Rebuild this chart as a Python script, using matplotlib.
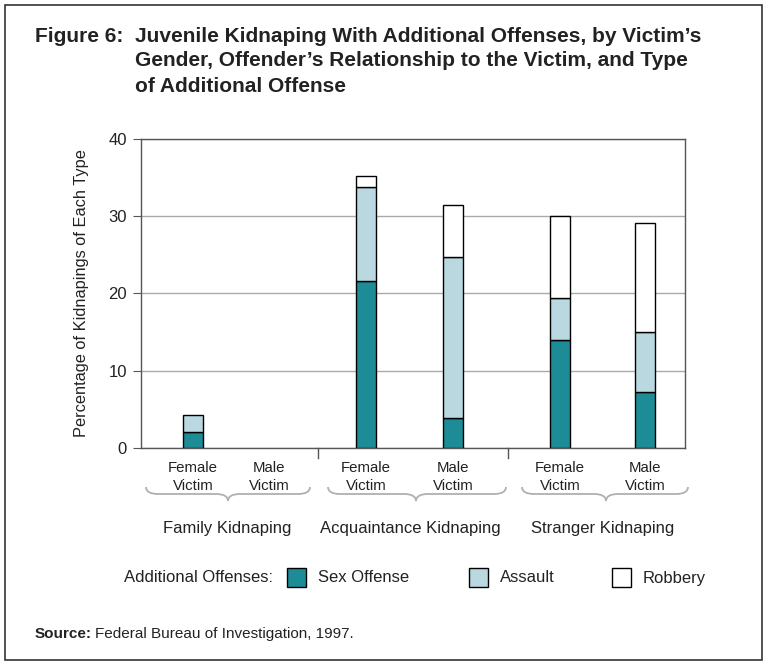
import matplotlib
matplotlib.use("Agg")
import matplotlib.pyplot as plt
from matplotlib.patches import Rectangle, PathPatch
from matplotlib.path import Path

W, H = 769, 668

victims = ["Female\nVictim", "Male\nVictim"] * 3
groups = ["Family Kidnaping", "Acquaintance Kidnaping", "Stranger Kidnaping"]
offenses = ["Sex Offense", "Assault", "Robbery"]
sex_offense = [2.0, 0.0, 21.6, 3.9, 14.0, 7.2]
assault = [2.2, 0.0, 12.2, 20.8, 5.4, 7.8]
robbery = [0.0, 0.0, 1.4, 6.7, 10.6, 14.1]
yticks = [0, 10, 20, 30, 40]

teal = "#1E8C96"
light = "#B9D8E0"
colors = [teal, light, "white"]

plt.rcParams["font.family"] = ["Liberation Sans", "DejaVu Sans"]

fig = plt.figure(figsize=(W / 100, H / 100), dpi=100)


def fx(x):
    return x / W


def fy(y):
    return 1 - y / H


# axes placed by pixel box
ax = fig.add_axes([fx(141), fy(447.7), fx(685) - fx(141), fy(139) - fy(447.7)])
pos = [0.61, 1.51, 2.65, 3.67, 4.93, 5.93]
bw = 0.235
bottom = [0.0] * 6
for vals, c in zip([sex_offense, assault, robbery], colors):
    for i in range(6):
        if vals[i] > 0:
            ax.bar(pos[i], vals[i], bw, bottom=bottom[i], color=c,
                   edgecolor="black", linewidth=1.0, zorder=3)
    bottom = [b + v for b, v in zip(bottom, vals)]

ax.set_xlim(0, 6.4)
ax.set_ylim(0, 40)
ax.set_yticks(yticks)
ax.tick_params(axis="y", labelsize=12, length=6, color="#555555", pad=4,
               labelcolor="#222222")
ax.set_xticks([])
ax.yaxis.grid(True, color="#aaaaaa", linewidth=1.0, zorder=0)
for s in ax.spines.values():
    s.set_color("#555555")
    s.set_linewidth(1.0)
ax.set_ylabel("Percentage of Kidnapings of Each Type", fontsize=11.8,
              labelpad=14, color="#222222")

# group divider ticks below the axis
for xd in [2.08, 4.32]:
    ax.plot([xd, xd], [0, -1.3], color="#555555", lw=1.0, clip_on=False)

# victim labels
for p, lab in zip(pos, victims):
    ax.text(p, -1.7, lab, ha="center", va="top", fontsize=10.8,
            linespacing=1.35, color="#222222")

# braces and group labels
braces = [(146, 310, 228), (328, 506, 416), (522, 688, 606)]
label_x = [227, 410, 603]


def brace(x0, x1, xm, y0=487, h=14, r=12):
    ym = y0 + h / 2
    verts = [(x0, y0), (x0, ym), (x0 + r, ym), (x0 + r, ym),
             (xm - r, ym), (xm, ym), (xm, y0 + h),
             (xm, ym), (xm + r, ym), (x1 - r, ym),
             (x1 - r, ym), (x1, ym), (x1, y0)]
    codes = [Path.MOVETO, Path.CURVE3, Path.CURVE3, Path.LINETO,
             Path.LINETO, Path.CURVE3, Path.CURVE3,
             Path.CURVE3, Path.CURVE3, Path.LINETO,
             Path.LINETO, Path.CURVE3, Path.CURVE3]
    verts = [(fx(a), fy(b)) for a, b in verts]
    return PathPatch(Path(verts, codes), transform=fig.transFigure,
                     facecolor="none", edgecolor="#b0b0b0", lw=1.3)


for (x0, x1, xm), g, lx in zip(braces, groups, label_x):
    fig.patches.append(brace(x0, x1, xm))
    fig.text(fx(lx), fy(528), g, ha="center", va="center", fontsize=12,
             color="#222222")

# title
tfont = dict(family=["Liberation Sans Narrow", "Liberation Sans"],
             weight="bold", fontsize=15, color="#222222")
fig.text(fx(35), fy(36), "Figure 6:", va="center", **tfont)
title_lines = ["Juvenile Kidnaping With Additional Offenses, by Victim\u2019s",
               "Gender, Offender\u2019s Relationship to the Victim, and Type",
               "of Additional Offense"]
for k, t in enumerate(title_lines):
    fig.text(fx(135), fy(36 + 25 * k), t, va="center", **tfont)

# legend
fig.text(fx(124), fy(578), "Additional Offenses:", va="center", fontsize=12,
         color="#222222")
legend_x = [287, 469, 612]
for lx, c, name in zip(legend_x, colors, offenses):
    fig.patches.append(Rectangle((fx(lx), fy(587)), fx(19), 19 / H,
                                 transform=fig.transFigure, facecolor=c,
                                 edgecolor="black", lw=1.0))
    fig.text(fx(lx + 31), fy(578), name, va="center", fontsize=12,
             color="#222222")

# source
fig.text(fx(35), fy(634), "Source:", va="center", fontsize=11,
         weight="bold", color="#222222")
fig.text(fx(95), fy(634), "Federal Bureau of Investigation, 1997.",
         va="center", fontsize=11, color="#222222")

# outer frame
fig.patches.append(Rectangle((fx(5), fy(660)), fx(757), 655 / H,
                             transform=fig.transFigure, facecolor="none",
                             edgecolor="#333333", lw=1.2))

fig.savefig("out.png", dpi=100)
